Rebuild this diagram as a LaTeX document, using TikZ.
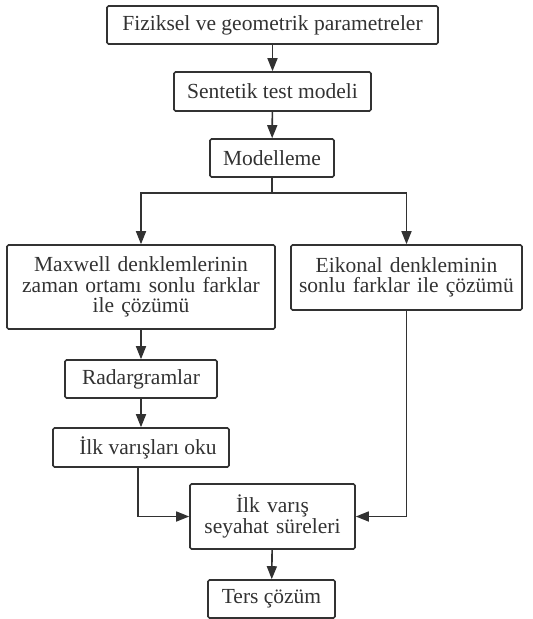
\documentclass[tikz,border=0pt]{standalone}
\usepackage{fontspec}
\setmainfont{Liberation Serif}
\usetikzlibrary{arrows.meta,positioning}
\definecolor{linecol}{RGB}{50,50,50}

\begin{document}
\begin{tikzpicture}[x=1pt,y=-1pt,
  procbox/.style={rectangle,draw=linecol,line width=1.6pt,rounded corners=1.5pt,inner sep=0pt,
    align=center,text=linecol,font=\fontsize{21.5}{20.5}\selectfont},
  flow/.style={-{Triangle[length=13pt,width=10pt]},draw=linecol,line width=1.6pt}]
\useasboundingbox (0,0) rectangle (533,619);

% Boxes
\node[procbox,minimum width=331pt,minimum height=38pt] (params) at (272.5,25) {Fiziksel ve geometrik parametreler};
\node[procbox,minimum width=197pt,minimum height=39pt] (synth) at (272.5,91.5) {Sentetik test modeli};
\node[procbox,minimum width=124pt,minimum height=38pt] (modeling) at (272,158) {Modelleme};
\node[procbox,minimum width=268pt,minimum height=84pt,text width=264pt] (maxwell) at (141,287) {Maxwell denklemlerinin\\zaman ortamı sonlu farklar\\ile çözümü};
\node[procbox,minimum width=231pt,minimum height=65pt,text width=228pt] (eikonal) at (406.5,277.5) {Eikonal denkleminin\\sonlu farklar ile çözümü};
\node[procbox,minimum width=152pt,minimum height=38pt] (radar) at (141,379) {Radargramlar};
\node[procbox,minimum width=176pt,minimum height=39pt] (picking) at (141,447.5) {\hspace{14pt}İlk varışları oku};
\node[procbox,minimum width=165pt,minimum height=65pt,text width=160pt] (traveltime) at (272.5,516.5) {İlk varış\\seyahat süreleri};
\node[procbox,minimum width=127pt,minimum height=38pt] (inversion) at (271.5,599) {Ters çözüm};

% Branch point
\coordinate (split) at (272,193);

% Arrows
\draw[flow] (params) -- (synth);
\draw[flow] (synth) -- (modeling);
\draw[draw=linecol,line width=1.6pt] (modeling) -- (split);
\draw[flow] (split) -| (maxwell.north);
\draw[flow] (split) -| (eikonal.north);
\draw[flow] (maxwell) -- (radar);
\draw[flow] (radar) -- (picking);
\draw[flow] ([xshift=-3pt]picking.south) |- (traveltime.west);
\draw[flow] (eikonal.south) |- (traveltime.east);
\draw[flow] (traveltime) -- (inversion);

\end{tikzpicture}
\end{document}
